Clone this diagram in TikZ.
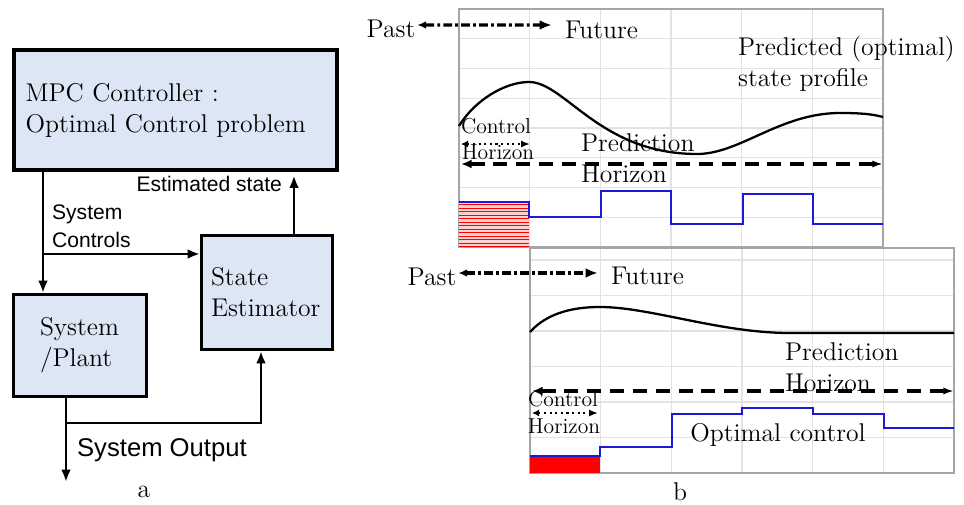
\documentclass[tikz,border=0pt]{standalone}
\usepackage{fontspec}
\usepackage{tikz}
\usetikzlibrary{arrows.meta, positioning, calc}
\newfontfamily\arialfont{Liberation Sans}
\newcommand{\boxfont}{\fontsize{14.6}{17.6}\selectfont}
\newcommand{\sigfont}{\arialfont\fontsize{12}{16}\selectfont}
\newcommand{\outfont}{\arialfont\fontsize{14.6}{17.6}\selectfont}
\newcommand{\notefont}{\fontsize{12.3}{13.5}\selectfont}
\definecolor{blockblue}{RGB}{220,230,244}
\definecolor{framegray}{RGB}{165,165,165}
\definecolor{gridgray}{RGB}{226,226,226}
\definecolor{ctrlblue}{RGB}{25,25,215}
\definecolor{hatchpink}{RGB}{250,210,210}

\begin{document}
\begin{tikzpicture}[x=0.02cm, y=0.02cm,
    block/.style={draw, fill=blockblue, line width=1.7pt, inner sep=0pt},
    flow/.style={line width=1.5pt, -{Latex[length=7pt,width=5.5pt]}},
    lbl/.style={inner sep=1pt},
    gridline/.style={gridgray, line width=0.6pt},
    framebox/.style={framegray, line width=0.9pt},
    statecurve/.style={line width=1.3pt},
    ctrlstep/.style={ctrlblue, line width=1.2pt},
    timearrow/.style={line width=1.9pt, dash pattern=on 5pt off 1.8pt on 1.6pt off 1.8pt,
        {Latex[length=5pt,width=4.5pt]}-{Latex[length=7pt,width=5.5pt]}},
    horizonarrow/.style={line width=2.2pt, dash pattern=on 8pt off 5pt,
        {Latex[length=6pt,width=5pt]}-{Latex[length=6pt,width=4pt]}},
    ctrlarrow/.style={line width=1.2pt, dotted,
        {Latex[length=4pt,width=4pt]}-{Latex[length=5pt,width=4pt]}}]
    \useasboundingbox (0,0) rectangle (964,-504);

    % block diagram
    \node[block, line width=2.3pt, minimum width=6.46cm, minimum height=2.4cm,
        text width=6cm, align=left, font=\boxfont] (mpc) at (175.5,-110)
        {MPC Controller :\\Optimal Control problem};
    \node[block, minimum width=2.66cm, minimum height=2.04cm,
        text width=1.6cm, align=left, font=\boxfont] (plant) at (80,-345.5)
        {System\\/Plant};
    \node[block, minimum width=2.62cm, minimum height=2.28cm,
        text width=2.24cm, align=left, font=\boxfont] (est) at (267,-292.5)
        {State\\Estimator};

    \coordinate (ctl) at (43,-254);
    \coordinate (estout) at (294,-200);
    \coordinate (tap) at (66,-423);
    \coordinate (out) at (66,-482);
    \draw[flow] (mpc.south -| ctl) -- (plant.north -| ctl);
    \draw[flow] (ctl) -- (ctl -| est.west);
    \draw[flow, shorten >=2pt] (est.north -| estout) -- (mpc.south -| estout);
    \draw[flow] (plant.south -| tap) -- (out);
    \draw[flow] (tap) -| ([xshift=-0.12cm]est.south);

    \node[lbl, font=\sigfont, align=left, anchor=west] (ctltxt) at (50,-226) {System\\Controls};
    \node[lbl, font=\sigfont, anchor=east] (esttxt) at (284,-184) {Estimated state};
    \node[lbl, font=\outfont, anchor=west] (outtxt) at (75,-450) {System Output};
    \node[lbl, font=\boxfont] (lbla) at (144,-492) {a};

    % upper horizon plot
    \foreach \k in {1,...,5}
        \draw[gridline] ({459+70.67*\k},-9) -- ({459+70.67*\k},-247);
    \foreach \k in {1,...,7}
        \draw[gridline] (459,{-9-29.75*\k}) -- (883,{-9-29.75*\k});
    \draw[framebox] (459,-9) rectangle (883,-247);
    \fill[hatchpink] (459,-202) rectangle (529,-247);
    \foreach \k in {0,...,12}
        \draw[red, line width=0.5pt] (459,{-204.5-3.5*\k}) -- (529,{-204.5-3.5*\k});
    \draw[ctrlstep] (459,-202) -- (529,-202) -- (529,-217) -- (601,-217) -- (601,-191)
        -- (671,-191) -- (671,-224) -- (743,-224) -- (743,-194) -- (813,-194)
        -- (813,-224) -- (883,-224);
    \draw[statecurve] (459,-126) .. controls (475,-100) and (505,-82) .. (529,-82)
        .. controls (565,-82) and (600,-154) .. (697,-154)
        .. controls (740,-154) and (780,-113) .. (840,-113)
        .. controls (860,-113) and (872,-114) .. (883,-117);

    \node[lbl, font=\boxfont] (past1) at (391,-29) {Past};
    \node[lbl, font=\boxfont, anchor=west] (fut1) at (563,-30) {Future};
    \draw[timearrow, shorten >=0.22cm] ([yshift=0.08cm]past1.east) -- ([yshift=0.1cm]fut1.west);
    \node[lbl, font=\boxfont, align=left, anchor=west] (predtxt) at (736,-64)
        {Predicted (optimal)\\state profile};
    \node[lbl, font=\notefont] (ctrl1) at (496,-126) {Control};
    \node[lbl, font=\notefont] (hor1) at (498,-152) {Horizon};
    \coordinate (ch1l) at (461,-144);
    \coordinate (ch1r) at (530,-144);
    \draw[ctrlarrow] (ch1l) -- (ch1r);
    \coordinate (ph1l) at (461,-164);
    \coordinate (ph1r) at (883,-164);
    \draw[horizonarrow] (ph1l) -- (ph1r);
    \node[lbl, font=\boxfont, align=left, anchor=west] (phtxt1) at (579,-158)
        {Prediction\\Horizon};

    % lower horizon plot
    \foreach \k in {1,...,5}
        \draw[gridline] ({530+70.67*\k},-248) -- ({530+70.67*\k},-473);
    \foreach \k in {0,...,5}
        \draw[gridline] (530,{-260-35.5*\k}) -- (954,{-260-35.5*\k});
    \draw[framebox] (530,-248) rectangle (954,-473);
    \fill[red] (530,-456) rectangle (600,-473);
    \draw[ctrlstep] (530,-456) -- (600,-456) -- (600,-447) -- (672,-447) -- (672,-414)
        -- (742,-414) -- (742,-408) -- (813,-408) -- (813,-414) -- (884,-414)
        -- (884,-428) -- (954,-428);
    \draw[statecurve] (530,-332) .. controls (548,-312) and (575,-307) .. (600,-307)
        .. controls (650,-307) and (720,-333) .. (790,-333) -- (954,-333);

    \node[lbl, font=\boxfont] (past2) at (432,-277) {Past};
    \node[lbl, font=\boxfont, anchor=west] (fut2) at (609,-276) {Future};
    \draw[timearrow, shorten >=0.22cm] ([yshift=0.08cm]past2.east) -- ([yshift=0.06cm]fut2.west);
    \node[lbl, font=\boxfont, align=left, anchor=west] (phtxt2) at (783,-367)
        {Prediction\\Horizon};
    \coordinate (ph2l) at (532,-391);
    \coordinate (ph2r) at (954,-391);
    \draw[horizonarrow] (ph2l) -- (ph2r);
    \node[lbl, font=\notefont] (ctrl2) at (563,-399) {Control};
    \node[lbl, font=\notefont] (hor2) at (564,-426) {Horizon};
    \coordinate (ch2l) at (532,-413);
    \coordinate (ch2r) at (598,-413);
    \draw[ctrlarrow] (ch2l) -- (ch2r);
    \node[lbl, font=\boxfont] (optctl) at (778,-435) {Optimal control};
    \node[lbl, font=\boxfont] (lblb) at (680,-492) {b};
\end{tikzpicture}
\end{document}
